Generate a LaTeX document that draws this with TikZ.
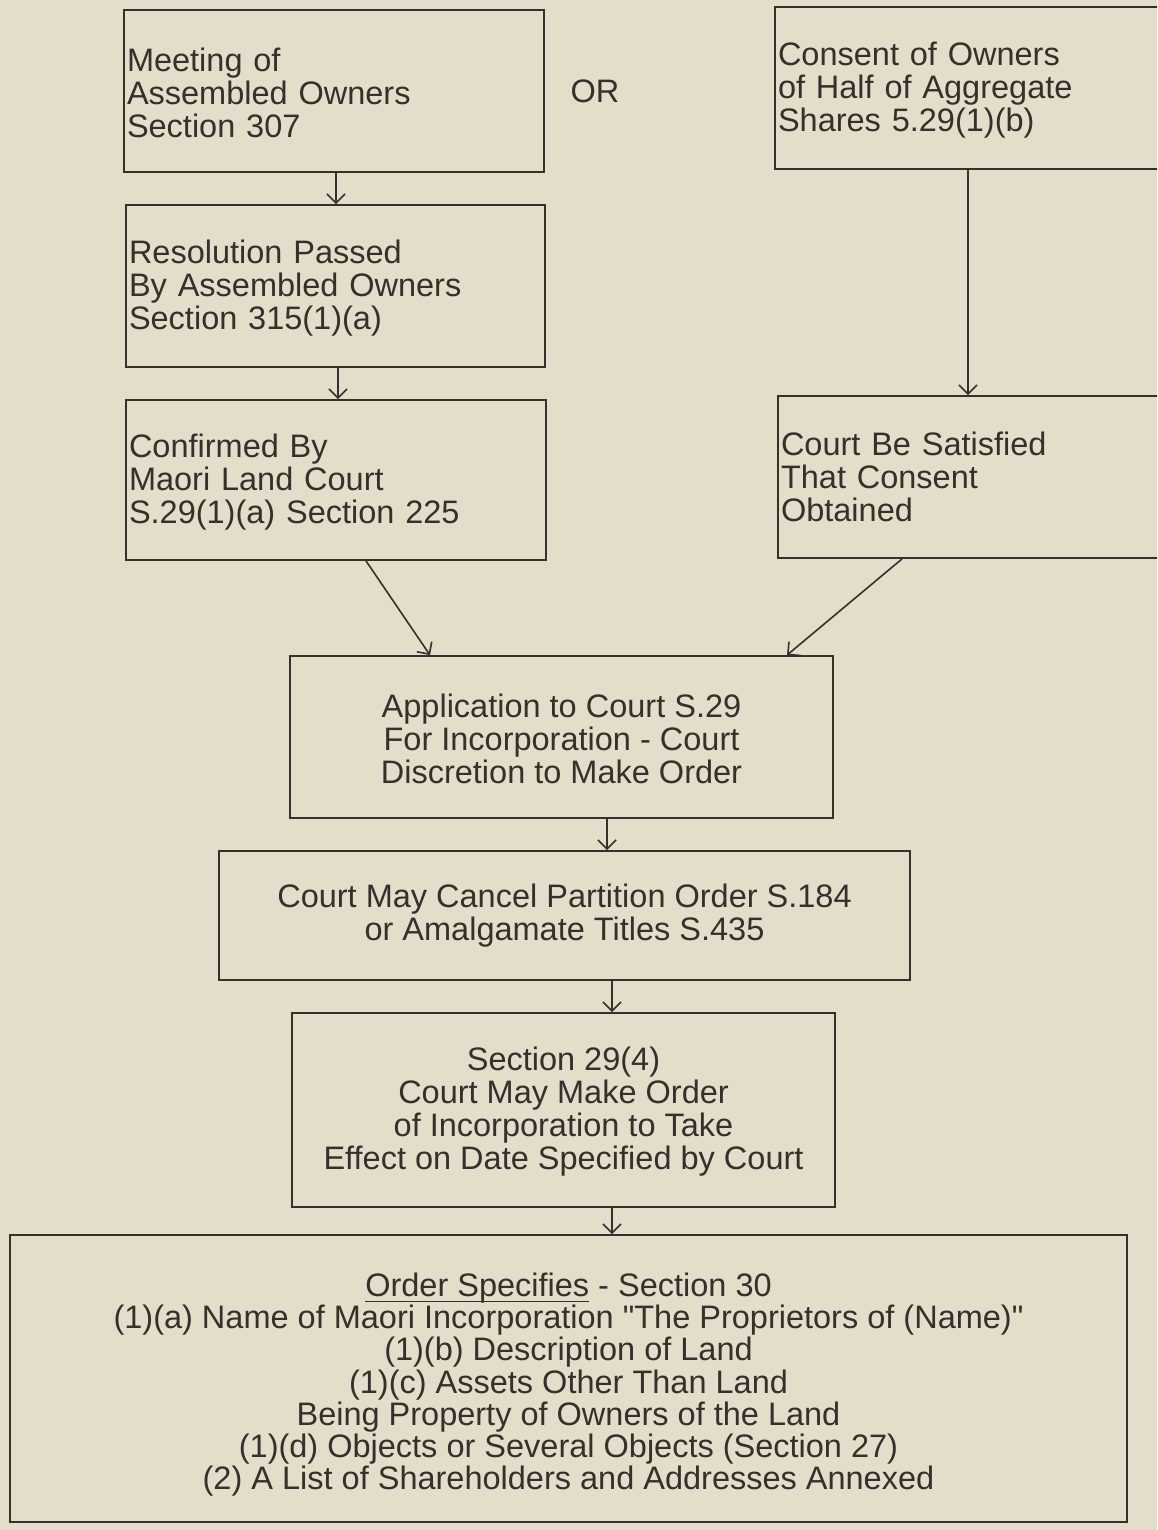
\documentclass[tikz,border=0pt]{standalone}
\usepackage{fontspec}
\setmainfont{Liberation Sans}
\usetikzlibrary{arrows.meta}
\definecolor{paper}{HTML}{E3DECA}
\definecolor{ink}{HTML}{35302B}
\newcommand\myuline[1]{\setbox0\hbox{#1}\rlap{\rule[-5.6pt]{\wd0}{1.3pt}}\box0\relax}
\tikzset{
  box/.style={draw=ink, line width=1.8pt, rectangle, inner sep=0pt, text=ink,
    font=\fontsize{32.5}{33}\selectfont},
  lbox/.style={box, align=left, inner xsep=3pt, text width=#1},
  cbox/.style={box, align=center},
  arr/.style={draw=ink, line width=1.6pt, -{Straight Barb[length=9pt,width=18pt,line width=1.6pt]}},
}
\begin{document}
\begin{tikzpicture}[x=1pt,y=-1pt]
\useasboundingbox (0,0) rectangle (1157,1530);
\fill[paper] (0,0) rectangle (1157,1530);
\clip (0,0) rectangle (1157,1530);

% left column
\node[lbox=414pt, minimum width=420pt, minimum height=162pt] (b1) at (334,91)
  {\rule{0pt}{27pt}Meeting of\\Assembled Owners\\Section 307};
\node[lbox=413pt, minimum width=419pt, minimum height=162pt] (b3) at (335.5,286)
  {\rule{0pt}{27pt}Resolution Passed\\By Assembled Owners\\Section 315(1)(a)};
\node[lbox=414pt, minimum width=420pt, minimum height=160pt] (b4) at (336,480)
  {\rule{0pt}{27pt}Confirmed By\\Maori Land Court\\S.29(1)(a) Section 225};

% OR
\node[text=ink, font=\fontsize{32.5}{33}\selectfont] (or) at (595,91) {OR};

% right column
\node[lbox=389pt, minimum width=395pt, minimum height=162pt] (b2) at (972.5,88)
  {\rule{0pt}{27pt}Consent of Owners\\of Half of Aggregate\\Shares 5.29(1)(b)};
\node[lbox=386pt, minimum width=392pt, minimum height=162pt] (b5) at (974,477)
  {Court Be Satisfied\\That Consent\\Obtained};

% center column
\node[cbox, minimum width=543pt, minimum height=162pt] (b6) at (561.5,737)
  {\rule{0pt}{27pt}Application to Court S.29\\For Incorporation - Court\\Discretion to Make Order};
\node[cbox, minimum width=691pt, minimum height=129pt] (b7) at (564.5,915.5)
  {Court May Cancel Partition Order S.184\\or Amalgamate Titles S.435};
\node[cbox, minimum width=543pt, minimum height=194pt] (b8) at (563.5,1110)
  {\rule{0pt}{27pt}Section 29(4)\\Court May Make Order\\of Incorporation to Take\\Effect on Date Specified by Court};
\node[cbox, minimum width=1117pt, minimum height=287pt,
      font=\fontsize{32.5}{32.2}\selectfont] (b9) at (568.5,1378.5)
  {\rule{0pt}{36pt}\myuline{Order Specifies} - Section 30\\
   (1)(a) Name of Maori Incorporation \textquotedbl The Proprietors of (Name)\textquotedbl\\
   (1)(b) Description of Land\\
   (1)(c) Assets Other Than Land\\
   Being Property of Owners of the Land\\
   (1)(d) Objects or Several Objects (Section 27)\\
   (2) A List of Shareholders and Addresses Annexed};

% connectors
\draw[arr] ([xshift=2pt]b1.south) -- ([xshift=2pt]b1.south |- b3.north);
\draw[arr] ([xshift=2.5pt]b3.south) -- ([xshift=2.5pt]b3.south |- b4.north);
\draw[arr] ([xshift=-4.5pt]b2.south) -- ([xshift=-4.5pt]b2.south |- b5.north);
\draw[arr] ([xshift=30pt]b4.south) -- ([xshift=-131.5pt]b6.north);
\draw[arr] ([xshift=-72pt]b5.south) -- ([xshift=225.5pt]b6.north);
\draw[arr] ([xshift=45.5pt]b6.south) -- ([xshift=45.5pt]b6.south |- b7.north);
\draw[arr] ([xshift=47.5pt]b7.south) -- ([xshift=47.5pt]b7.south |- b8.north);
\draw[arr] ([xshift=48.5pt]b8.south) -- ([xshift=48.5pt]b8.south |- b9.north);
\end{tikzpicture}
\end{document}
